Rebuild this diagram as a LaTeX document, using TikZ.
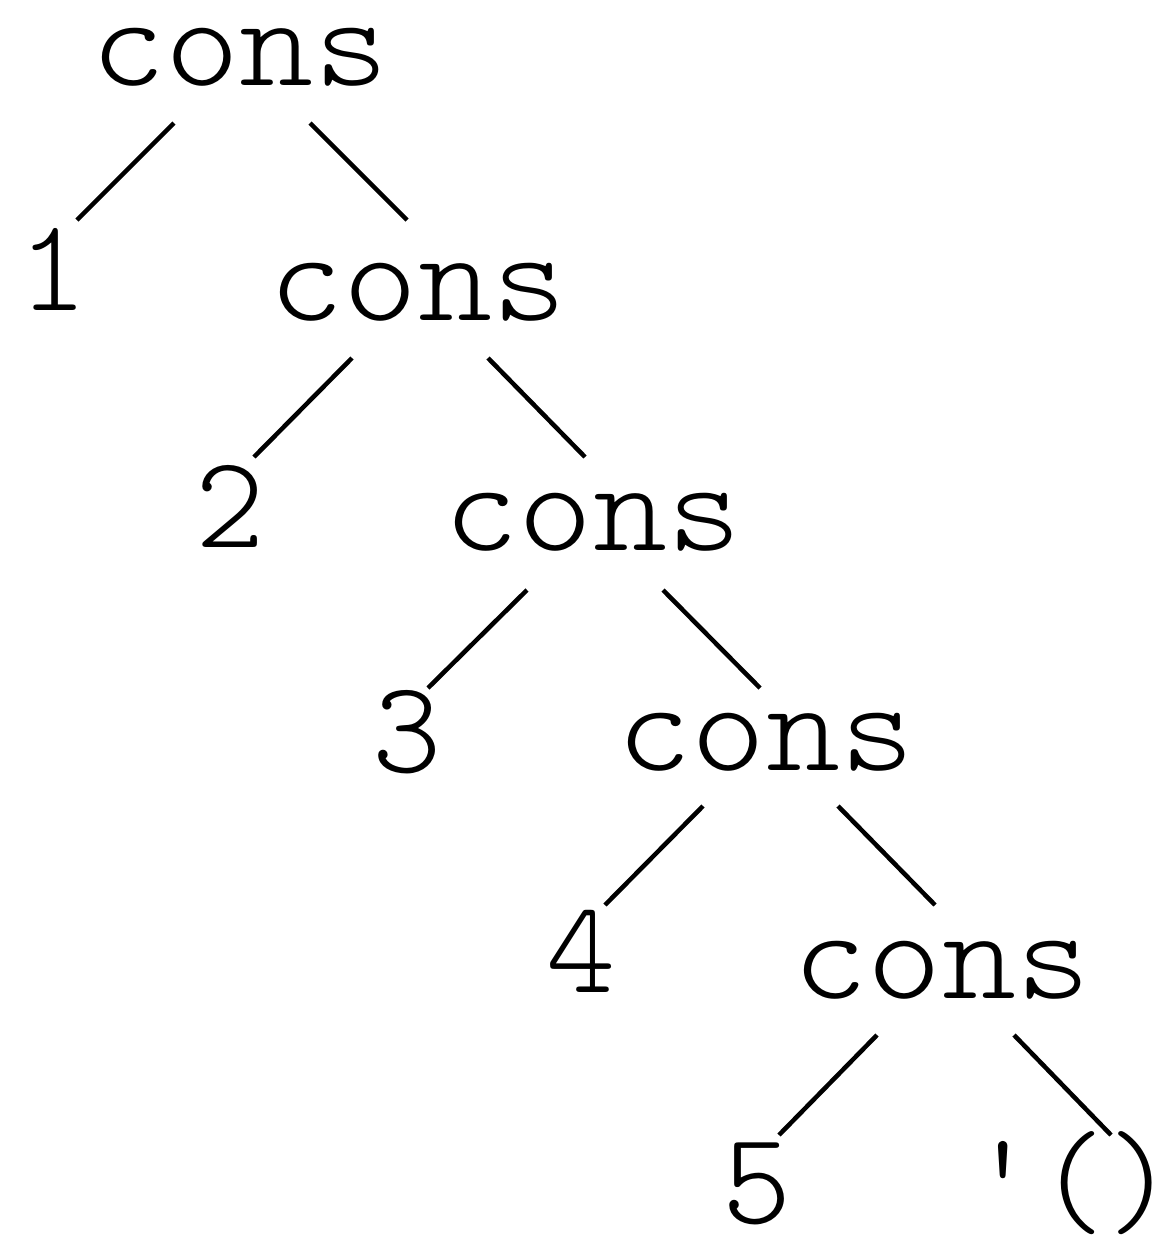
\documentclass[tikz,border=0pt]{standalone}
\usepackage{tikz}

\newcommand\consfont{\fontsize{99}{108}\fontseries{l}\ttfamily\selectfont}
% cons set a little wider
\newcommand\consword{\scalebox{1.07}[1]{cons}}

\begin{document}
\begin{tikzpicture}[x=0.75pt,y=-0.75pt,
  word/.style={anchor=base,inner sep=0pt,font=\consfont},
  branch/.style={line width=3.4pt}]
\useasboundingbox (0,0) rectangle (1164,1236);
% Text Node
\node[word] (c1) at (240,85) {\consword};
% Text Node
\node[word] (n1) at (53,310) {1};
% Text Node
\node[word] (c2) at (418,320) {\consword};
% Text Node
\node[word] (n2) at (230,547) {2};
% Text Node
\node[word] (c3) at (593,550) {\consword};
% Text Node
\node[word] (n3) at (407,772) {3};
% Text Node
\node[word] (c4) at (766,770) {\consword};
% Text Node
\node[word] (n4) at (581,992) {4};
% Text Node
\node[word] (c5) at (942,998) {\consword};
% Text Node
\node[word] (n5) at (757,1223) {5};
% Text Node
\node[word] (nil) at (1072,1223) {\textquotesingle()};
%Straight Lines
\draw[branch] ([shift={(-66,38)}]c1.base) -- ([shift={(24,-90)}]n1.base);
\draw[branch] ([shift={(70,38)}]c1.base) -- ([shift={(-11,-100)}]c2.base);
%Straight Lines
\draw[branch] ([shift={(-66,38)}]c2.base) -- ([shift={(24,-90)}]n2.base);
\draw[branch] ([shift={(70,38)}]c2.base) -- ([shift={(-8,-93)}]c3.base);
%Straight Lines
\draw[branch] ([shift={(-66,40)}]c3.base) -- ([shift={(21,-84)}]n3.base);
\draw[branch] ([shift={(70,40)}]c3.base) -- ([shift={(-6,-82)}]c4.base);
%Straight Lines
\draw[branch] ([shift={(-63,36)}]c4.base) -- ([shift={(24,-87)}]n4.base);
\draw[branch] ([shift={(72,36)}]c4.base) -- ([shift={(-7,-93)}]c5.base);
%Straight Lines
\draw[branch] ([shift={(-65,37)}]c5.base) -- ([shift={(22,-88)}]n5.base);
\draw[branch] ([shift={(72,37)}]c5.base) -- ([shift={(39,-88)}]nil.base);
\end{tikzpicture}
\end{document}
